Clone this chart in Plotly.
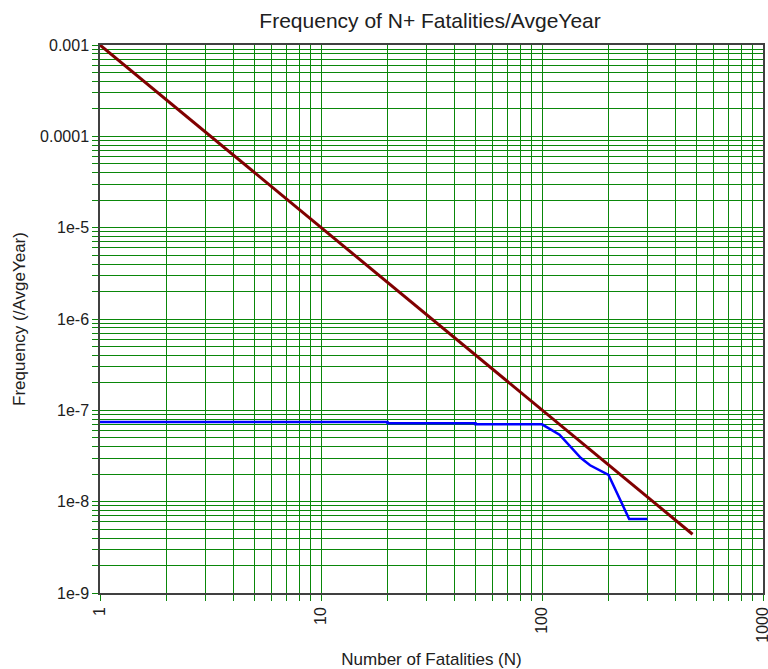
import plotly.graph_objects as go

# Brown line: FN criterion
crit_n = [1, 2, 5, 10, 20, 50, 100, 200, 480]
crit_f = [1e-3, 2.5e-4, 4e-5, 1e-5, 2.5e-6, 4e-7, 1e-7, 2.5e-8, 4.4e-9]

# Blue line: FN curve
fn_n = [1, 20, 20, 50, 50, 100, 120, 150, 165, 200, 248, 300]
fn_f = [7.44e-8, 7.44e-8, 7.2e-8, 7.2e-8, 7.03e-8, 7.03e-8, 5.4e-8, 3.0e-8, 2.5e-8, 1.96e-8, 6.46e-9, 6.46e-9]

x_major = [1, 10, 100, 1000]
x_major_labels = ["1", "10", "100", "1000"]
y_major = [1e-9, 1e-8, 1e-7, 1e-6, 1e-5, 1e-4, 1e-3]
y_major_labels = ["1e-9", "1e-8", "1e-7", "1e-6", "1e-5", "0.0001", "0.001"]

GRID = "#0a870a"
AXIS = "#404040"
FONT = "Liberation Sans, Arial, sans-serif"
TXT = "#202020"

minor_style = dict(dtick="D1", ticks="outside", ticklen=6, tickcolor=GRID, tickwidth=1,
                   showgrid=True, gridcolor=GRID, gridwidth=1)

fig = go.Figure()
fig.add_trace(go.Scatter(x=crit_n, y=crit_f, mode="lines",
                         line=dict(color="#800000", width=3), showlegend=False))
fig.add_trace(go.Scatter(x=fn_n, y=fn_f, mode="lines",
                         line=dict(color="#0000ff", width=2.5), showlegend=False))

fig.update_layout(
    width=768, height=669,
    margin=dict(l=100, r=5, t=45, b=76, autoexpand=False),
    paper_bgcolor="white", plot_bgcolor="white",
    font=dict(family=FONT, size=16, color=TXT),
    title=dict(text="Frequency of N+ Fatalities/AvgeYear", x=0.56, xanchor="center",
               y=0.969, yanchor="middle", font=dict(size=21, color=TXT)),
    xaxis=dict(
        type="log", range=[0, 3], tickmode="array", tickvals=x_major, ticktext=x_major_labels,
        tickangle=-90, ticks="outside", ticklen=6, tickcolor=GRID, tickwidth=1,
        ticklabeloverflow="allow",
        showgrid=True, gridcolor=GRID, gridwidth=1, automargin=False,
        minor=minor_style,
        showline=True, linecolor=AXIS, linewidth=1.5, mirror=True, zeroline=False,
        title=dict(text="Number of Fatalities (N)", standoff=18, font=dict(size=17)),
        tickfont=dict(size=16),
    ),
    yaxis=dict(
        type="log", range=[-9, -3], tickmode="array", tickvals=y_major, ticktext=y_major_labels,
        ticks="outside", ticklen=6, tickcolor=GRID, tickwidth=1,
        ticklabeloverflow="allow",
        showgrid=True, gridcolor=GRID, gridwidth=1, automargin=False,
        minor=minor_style,
        showline=True, linecolor=AXIS, linewidth=1.5, mirror=True, zeroline=False,
        title=dict(text="Frequency (/AvgeYear)", standoff=10, font=dict(size=17)),
        tickfont=dict(size=16),
    ),
)

fig.write_html(
    "out.html",
    config={"displayModeBar": False},
    post_script="document.body.style.margin='0';document.body.style.overflow='hidden';",
)
